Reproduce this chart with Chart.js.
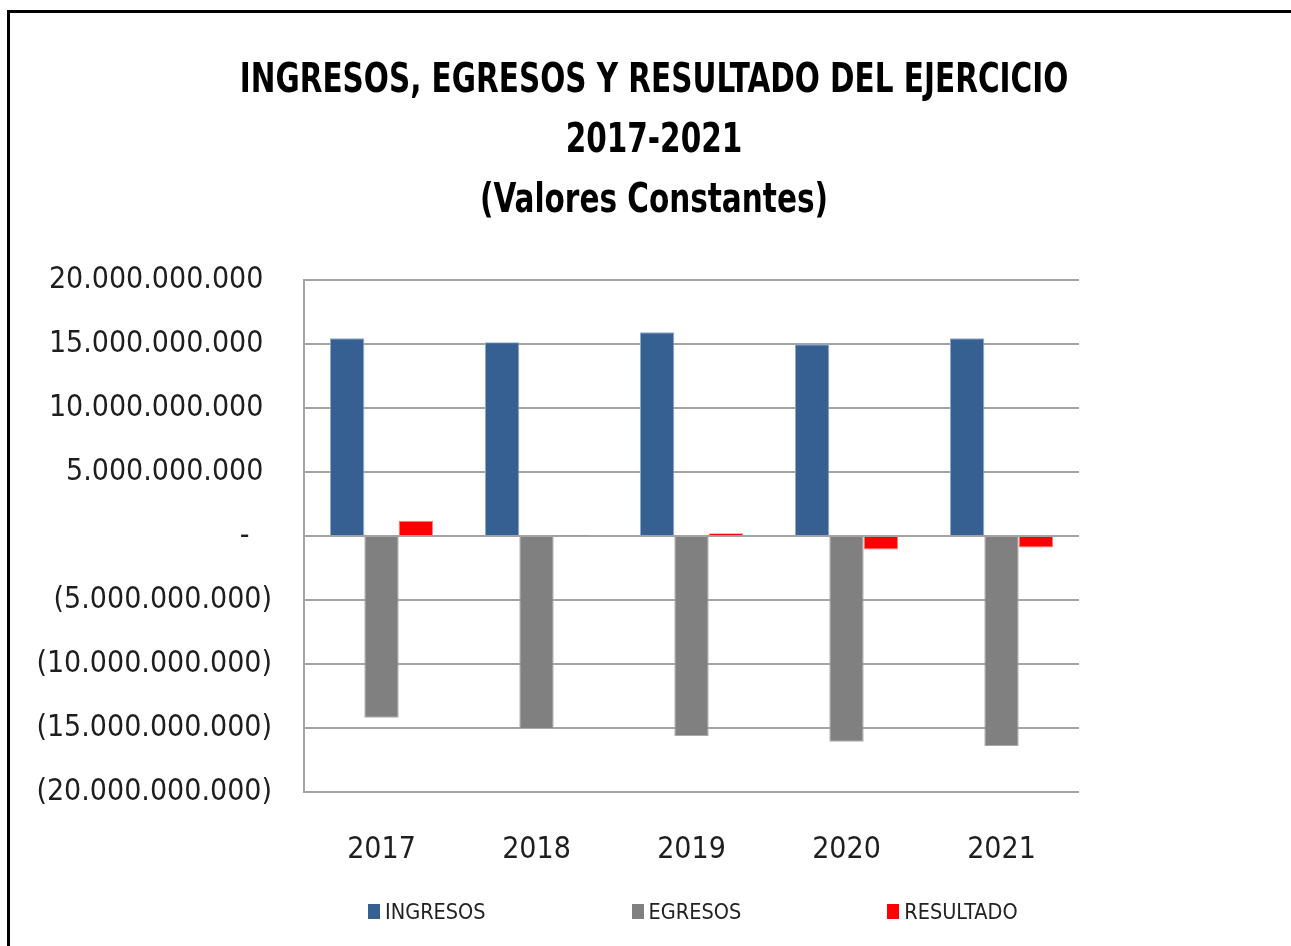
<!DOCTYPE html>
<html lang="es">
<head>
<meta charset="utf-8">
<title>Ingresos, egresos y resultado del ejercicio 2017-2021</title>
<script src="https://cdn.jsdelivr.net/npm/chart.js@4.4.1/dist/chart.umd.min.js"></script>
<style>
    html, body { margin: 0; padding: 0; background: #fff; overflow: hidden; }
    body { width: 1291px; height: 946px; position: relative; font-family: "DejaVu Sans Condensed", "Liberation Sans", sans-serif; }
    .frame { position: absolute; left: 7px; top: 10px; width: 1400px; height: 1100px; border: 3px solid #000; }
    #chart { position: absolute; left: 0; top: 0; }
    .chart-title { position: absolute; left: 0; top: 48px; width: 1308px; text-align: center; font-weight: bold; font-size: 40px; line-height: 60px; color: #000; transform: scaleX(0.82); transform-origin: 654px 0; }
    .legend { position: absolute; left: 368px; top: 899px; display: flex; gap: 146px; font-size: 21.5px; color: #222; }
    .legend-item { display: flex; align-items: center; }
    .legend-item i { display: inline-block; width: 12px; height: 15px; margin-right: 5px; }
</style>
</head>
<body>
<div class="frame"></div>
<canvas id="chart" width="1291" height="946"></canvas>
<div class="chart-title">
    <div>INGRESOS, EGRESOS Y RESULTADO DEL EJERCICIO</div>
    <div>2017-2021</div>
    <div>(Valores Constantes)</div>
</div>
<div class="legend" id="legend"></div>

<script>
// Valores constantes por año
const years = ['2017', '2018', '2019', '2020', '2021'];
const ingresos = [15450000000, 15130000000, 15910000000, 14980000000, 15440000000];
const egresos = [-14200000000, -15080000000, -15630000000, -16070000000, -16400000000];
const resultado = [1200000000, 50000000, 220000000, -1050000000, -900000000];

const seriesNames = ['INGRESOS', 'EGRESOS', 'RESULTADO'];
const seriesColors = ['#366092', '#808080', '#ff0000'];
const seriesBorders = ['#8fa9cf', '#a9a9a9', '#ff7f7f'];

const tickFont = { family: '"DejaVu Sans Condensed", "Liberation Sans", sans-serif', size: 30 };

// Formato contable: 15.000.000.000 , (5.000.000.000) y "-" para el cero
function formatMoney(v) {
    if (v === 0) return '-\u2007\u2009';
    const s = Math.abs(v).toFixed(0).replace(/\B(?=(\d{3})+(?!\d))/g, '.');
    return v < 0 ? '(' + s + ')' : s + ' ';
}

const ctx = document.getElementById('chart').getContext('2d');
const chart = new Chart(ctx, {
    type: 'bar',
    data: {
        labels: years,
        datasets: [ingresos, egresos, resultado].map((d, i) => ({
            label: seriesNames[i],
            data: d,
            backgroundColor: seriesColors[i],
            borderColor: seriesBorders[i],
            borderWidth: 1,
            categoryPercentage: 0.665,
            barPercentage: 1.0
        }))
    },
    options: {
        responsive: false,
        animation: false,
        layout: { padding: { top: 280, right: 212, bottom: 0, left: 0 } },
        plugins: {
            legend: { display: false },
            title: { display: false },
            tooltip: { enabled: false }
        },
        scales: {
            x: {
                grid: { display: false, drawTicks: false },
                border: { display: false },
                ticks: { color: '#1e1e1e', padding: 40, font: tickFont },
                afterFit: (scale) => { scale.height = 154; }
            },
            y: {
                min: -20000000000,
                max: 20000000000,
                ticks: {
                    stepSize: 5000000000,
                    color: '#1e1e1e',
                    padding: 32,
                    font: tickFont,
                    callback: (v) => formatMoney(v)
                },
                grid: { color: '#a3a3a3', lineWidth: 2, drawTicks: false },
                border: { display: true, color: '#a3a3a3', width: 2 },
                afterFit: (scale) => { scale.width = 304; }
            }
        }
    }
});

// Leyenda en HTML a partir de los datasets
document.getElementById('legend').innerHTML = chart.data.datasets.map(ds => `
    <div class="legend-item"><i style="background:${ds.backgroundColor}"></i>${ds.label}</div>
`).join('');
</script>
</body>
</html>
